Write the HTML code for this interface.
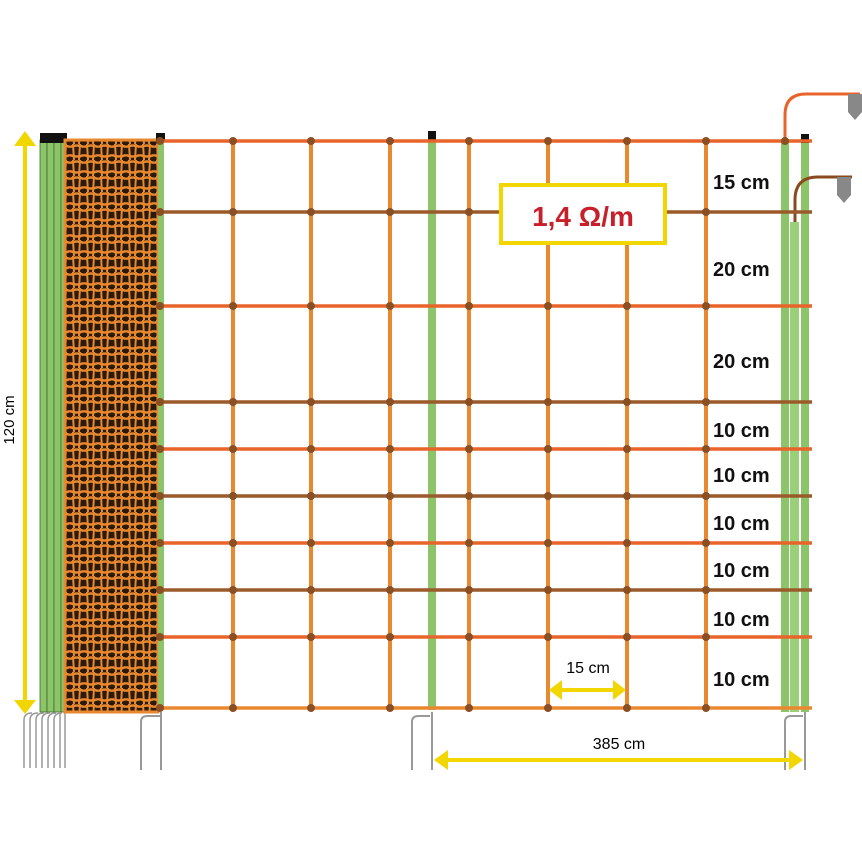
<!DOCTYPE html>
<html><head><style>
html,body{margin:0;padding:0;background:#fff;width:862px;height:862px;overflow:hidden}
svg{display:block}
text{font-family:"Liberation Sans",sans-serif}
</style></head><body>
<svg width="862" height="862" viewBox="0 0 862 862" xmlns="http://www.w3.org/2000/svg">
<defs>
<pattern id="net" width="14" height="16" patternUnits="userSpaceOnUse">
<rect width="14" height="16" fill="#2a1a0e"/>
<path d="M0 3 Q7 0 14 3 M0 11 Q7 14 14 11" stroke="#e8892f" stroke-width="2.5" fill="none"/>
<path d="M3 0 L4 16 M10 0 L9 16" stroke="#e8892f" stroke-width="2" fill="none"/>
</pattern>
</defs>
<!-- 120cm arrow -->
<line x1="25" y1="145" x2="25" y2="700" stroke="#f2d600" stroke-width="4"/>
<polygon points="14,146 36,146 25,131" fill="#f2d600"/>
<polygon points="14,700 36,700 25,714" fill="#f2d600"/>
<text x="14" y="420" font-size="15" transform="rotate(-90 14 420)" text-anchor="middle">120 cm</text>
<!-- left green posts -->
<g fill="#8cc46a" stroke="#3d6b2a" stroke-width="0.8">
<rect x="40" y="140" width="7" height="572"/><rect x="47" y="140" width="7" height="572"/>
<rect x="54" y="140" width="7" height="572"/><rect x="61" y="140" width="6" height="572"/>
</g>
<rect x="40" y="133" width="27" height="10" fill="#111"/>
<g stroke="#999" stroke-width="1.5" fill="none">
<path d="M24 768 V720 Q24 713 32 713 M30 768 V720 Q30 713 38 713 M36 768 V720 Q36 713 44 713 M42 768 V720 Q42 713 50 713 M48 768 V720 Q48 713 56 713 M54 768 V720 Q54 713 62 713 M60 768 V712 M65 768 V712"/>
</g>
<!-- rolled net -->
<rect x="65" y="140" width="93" height="572" fill="url(#net)"/>
<rect x="65" y="140" width="93" height="572" fill="none" stroke="#e8892f" stroke-width="3"/>
<rect x="158" y="140" width="6" height="570" fill="#8cc46a"/>
<rect x="156" y="133" width="9" height="8" fill="#111"/>
<!-- start post stake -->
<path d="M141 770 V722 Q141 716 147 716 H160 M161 770 V712" stroke="#999" stroke-width="2" fill="none"/>
<!-- middle green post -->
<rect x="428" y="138" width="8" height="572" fill="#8cc46a"/>
<rect x="428" y="131" width="8" height="9" fill="#111"/>
<path d="M412 770 V722 Q412 716 418 716 H430 M432 770 V712" stroke="#999" stroke-width="2" fill="none"/>
<!-- right posts -->
<rect x="781" y="140" width="8" height="572" fill="#8cc46a"/>
<rect x="801" y="140" width="8" height="572" fill="#8cc46a"/>
<rect x="790" y="222" width="9" height="490" fill="#9bd07a"/>
<rect x="801" y="134" width="8" height="9" fill="#111"/>
<path d="M785 770 V722 Q785 716 791 716 H803 M805 770 V712" stroke="#999" stroke-width="2" fill="none"/>
<!-- hooks -->
<path d="M785 140 V115 Q785 94 806 94 H860" stroke="#e8642a" stroke-width="3" fill="none"/>
<path d="M795 222 V200 Q795 177 818 177 H852" stroke="#8a4a20" stroke-width="3" fill="none"/>
<path d="M848 94 h14 v18 l-7 8 l-7 -8z" fill="#888"/>
<path d="M837 177 h14 v18 l-7 8 l-7 -8z" fill="#888"/>
<!-- vertical struts -->
<g stroke="#e8892f" stroke-width="4">
<line x1="233" y1="141" x2="233" y2="708"/><line x1="311" y1="141" x2="311" y2="708"/>
<line x1="390" y1="141" x2="390" y2="708"/><line x1="469" y1="141" x2="469" y2="708"/>
<line x1="548" y1="141" x2="548" y2="708"/><line x1="627" y1="141" x2="627" y2="708"/>
<line x1="706" y1="141" x2="706" y2="708"/>
</g>
<!-- horizontal wires -->
<g stroke-width="3.5">
<line x1="158" y1="141" x2="812" y2="141" stroke="#e8642a"/>
<line x1="158" y1="212" x2="812" y2="212" stroke="#9a5a2a"/>
<line x1="158" y1="306" x2="812" y2="306" stroke="#e8642a"/>
<line x1="158" y1="402" x2="812" y2="402" stroke="#9a5a2a"/>
<line x1="158" y1="449" x2="812" y2="449" stroke="#e8642a"/>
<line x1="158" y1="496" x2="812" y2="496" stroke="#9a5a2a"/>
<line x1="158" y1="543" x2="812" y2="543" stroke="#e8642a"/>
<line x1="158" y1="590" x2="812" y2="590" stroke="#9a5a2a"/>
<line x1="158" y1="637" x2="812" y2="637" stroke="#e8642a"/>
<line x1="158" y1="708" x2="812" y2="708" stroke="#e8892f"/>
</g>
<!-- knots -->
<g fill="#8a5024">
<circle cx="160" cy="141" r="4"/><circle cx="233" cy="141" r="4"/><circle cx="311" cy="141" r="4"/><circle cx="390" cy="141" r="4"/><circle cx="469" cy="141" r="4"/><circle cx="548" cy="141" r="4"/><circle cx="627" cy="141" r="4"/><circle cx="706" cy="141" r="4"/><circle cx="785" cy="141" r="4"/>
<circle cx="160" cy="212" r="4"/><circle cx="233" cy="212" r="4"/><circle cx="311" cy="212" r="4"/><circle cx="390" cy="212" r="4"/><circle cx="469" cy="212" r="4"/><circle cx="706" cy="212" r="4"/>
<circle cx="160" cy="306" r="4"/><circle cx="233" cy="306" r="4"/><circle cx="311" cy="306" r="4"/><circle cx="390" cy="306" r="4"/><circle cx="469" cy="306" r="4"/><circle cx="548" cy="306" r="4"/><circle cx="627" cy="306" r="4"/><circle cx="706" cy="306" r="4"/>
<circle cx="160" cy="402" r="4"/><circle cx="233" cy="402" r="4"/><circle cx="311" cy="402" r="4"/><circle cx="390" cy="402" r="4"/><circle cx="469" cy="402" r="4"/><circle cx="548" cy="402" r="4"/><circle cx="627" cy="402" r="4"/><circle cx="706" cy="402" r="4"/>
<circle cx="160" cy="449" r="4"/><circle cx="233" cy="449" r="4"/><circle cx="311" cy="449" r="4"/><circle cx="390" cy="449" r="4"/><circle cx="469" cy="449" r="4"/><circle cx="548" cy="449" r="4"/><circle cx="627" cy="449" r="4"/><circle cx="706" cy="449" r="4"/>
<circle cx="160" cy="496" r="4"/><circle cx="233" cy="496" r="4"/><circle cx="311" cy="496" r="4"/><circle cx="390" cy="496" r="4"/><circle cx="469" cy="496" r="4"/><circle cx="548" cy="496" r="4"/><circle cx="627" cy="496" r="4"/><circle cx="706" cy="496" r="4"/>
<circle cx="160" cy="543" r="4"/><circle cx="233" cy="543" r="4"/><circle cx="311" cy="543" r="4"/><circle cx="390" cy="543" r="4"/><circle cx="469" cy="543" r="4"/><circle cx="548" cy="543" r="4"/><circle cx="627" cy="543" r="4"/><circle cx="706" cy="543" r="4"/>
<circle cx="160" cy="590" r="4"/><circle cx="233" cy="590" r="4"/><circle cx="311" cy="590" r="4"/><circle cx="390" cy="590" r="4"/><circle cx="469" cy="590" r="4"/><circle cx="548" cy="590" r="4"/><circle cx="627" cy="590" r="4"/><circle cx="706" cy="590" r="4"/>
<circle cx="160" cy="637" r="4"/><circle cx="233" cy="637" r="4"/><circle cx="311" cy="637" r="4"/><circle cx="390" cy="637" r="4"/><circle cx="469" cy="637" r="4"/><circle cx="548" cy="637" r="4"/><circle cx="627" cy="637" r="4"/><circle cx="706" cy="637" r="4"/>
<circle cx="160" cy="708" r="4"/><circle cx="233" cy="708" r="4"/><circle cx="311" cy="708" r="4"/><circle cx="390" cy="708" r="4"/><circle cx="469" cy="708" r="4"/><circle cx="548" cy="708" r="4"/><circle cx="627" cy="708" r="4"/><circle cx="706" cy="708" r="4"/>
</g>
<!-- resistance box -->
<rect x="501" y="185" width="164" height="58" fill="#fff" stroke="#f2d600" stroke-width="4"/>
<text x="583" y="226" font-size="28" font-weight="bold" fill="#c8202a" text-anchor="middle">1,4 Ω/m</text>
<!-- spacing labels -->
<g font-size="20" font-weight="bold" fill="#111">
<text x="713" y="189">15 cm</text><text x="713" y="276">20 cm</text><text x="713" y="368">20 cm</text>
<text x="713" y="437">10 cm</text><text x="713" y="482">10 cm</text><text x="713" y="530">10 cm</text>
<text x="713" y="577">10 cm</text><text x="713" y="626">10 cm</text><text x="713" y="686">10 cm</text>
</g>
<!-- 15cm arrow -->
<line x1="558" y1="690" x2="617" y2="690" stroke="#f2d600" stroke-width="4"/>
<polygon points="549,690 562,680 562,700" fill="#f2d600"/>
<polygon points="626,690 613,680 613,700" fill="#f2d600"/>
<text x="588" y="673" font-size="16" text-anchor="middle">15 cm</text>
<!-- 385cm arrow -->
<line x1="445" y1="760" x2="792" y2="760" stroke="#f2d600" stroke-width="4"/>
<polygon points="434,760 448,750 448,770" fill="#f2d600"/>
<polygon points="803,760 789,750 789,770" fill="#f2d600"/>
<text x="619" y="749" font-size="16" text-anchor="middle">385 cm</text>
</svg>
</body></html>
